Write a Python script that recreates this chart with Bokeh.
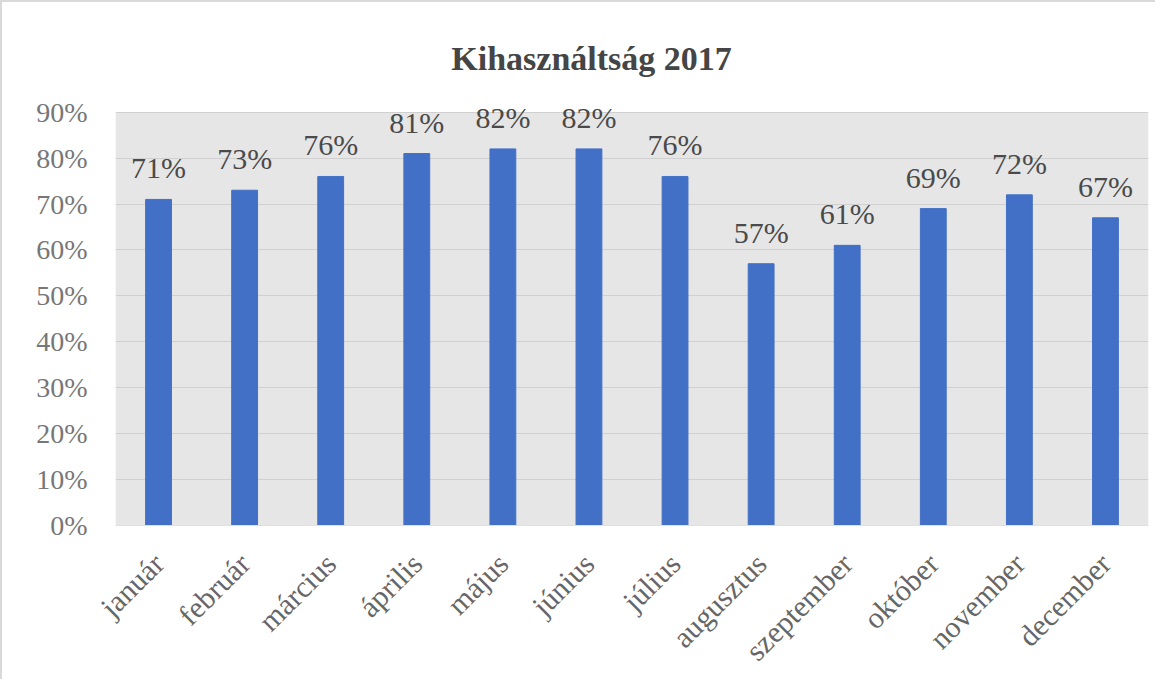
from math import pi
from bokeh.plotting import figure
from bokeh.models import (ColumnDataSource, FactorRange, FixedTicker, NumeralTickFormatter,
                          LabelSet, Label, Range1d, BoxAnnotation)
from bokeh.core.properties import value
from bokeh.embed import file_html
from bokeh.resources import INLINE

months = ["január", "február", "március", "április", "május", "június",
          "július", "augusztus", "szeptember", "október", "november", "december"]
values_pct = [71, 73, 76, 81, 82, 82, 76, 57, 61, 69, 72, 67]
y_ticks_pct = [0, 10, 20, 30, 40, 50, 60, 70, 80, 90]
title_text = "Kihasználtság 2017"

values = [v / 100 for v in values_pct]
labels = [f"{v}%" for v in values_pct]
source = ColumnDataSource(dict(month=months, value=values, label=labels))

SERIF = "Liberation Serif"
Y_AXIS_MAX = y_ticks_pct[-1] / 100

p = figure(x_range=FactorRange(*months, range_padding=0), y_range=Range1d(0, 1.08),
           width=1155, height=679, output_backend="svg", toolbar_location=None,
           min_border_left=113, min_border_right=9, min_border_top=27, min_border_bottom=151)
p.styles = {"border-left": "2px solid #d9d9d9", "border-top": "2px solid #d9d9d9"}

p.background_fill_color = "white"
p.border_fill_color = "white"
p.outline_line_color = None

# plot-area background (0% .. 90%)
p.add_layout(BoxAnnotation(bottom=0, top=Y_AXIS_MAX, fill_color="#e6e6e6", fill_alpha=1,
                           line_color=None, level="image"))

p.vbar(x="month", top="value", width=0.3, source=source, color="#4270C6")

p.add_layout(LabelSet(x="month", y="value", text="label", source=source,
                      text_align="center", text_baseline="bottom", y_offset=15,
                      text_font=value(SERIF), text_font_size=value("30px"),
                      text_color="#4a4a4a"))

p.add_layout(Label(x=5.53, y=1.017, text=title_text, text_align="center",
                   text_baseline="middle", text_font=SERIF, text_font_size="34px",
                   text_font_style="bold", text_color="#454545"))

p.yaxis.ticker = FixedTicker(ticks=[t / 100 for t in y_ticks_pct])
p.yaxis.formatter = NumeralTickFormatter(format="0%")
p.yaxis.axis_line_color = None
p.yaxis.major_tick_line_color = None
p.yaxis.minor_tick_line_color = None
p.yaxis.major_label_standoff = 22
p.yaxis.major_label_text_font = SERIF
p.yaxis.major_label_text_font_size = "28px"
p.yaxis.major_label_text_color = "#777777"

p.xaxis.axis_line_color = "#e0e0e0"
p.xaxis.major_tick_line_color = None
p.xaxis.major_label_orientation = pi / 4
p.xaxis.major_label_standoff = 27
p.xaxis.major_label_text_font = SERIF
p.xaxis.major_label_text_font_size = "30px"
p.xaxis.major_label_text_color = "#666666"

p.xgrid.grid_line_color = None
p.ygrid.grid_line_color = "#d0d0d0"

open("out.html", "w").write(file_html(p, INLINE))
